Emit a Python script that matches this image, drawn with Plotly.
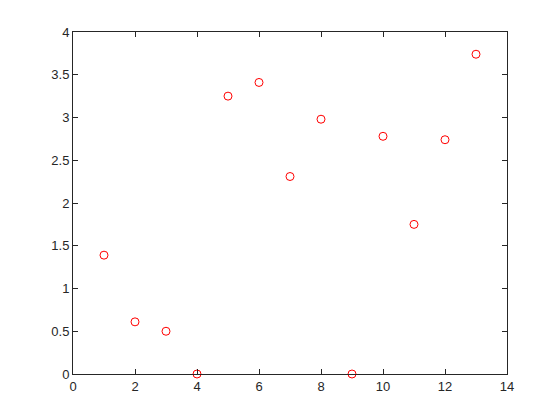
import plotly.graph_objects as go

x_vals = [1, 2, 3, 4, 5, 6, 7, 8, 9, 10, 11, 12, 13]
y_vals = [1.39, 0.61, 0.50, 0.0, 3.25, 3.41, 2.31, 2.98, 0.0, 2.78, 1.75, 2.74, 3.74]
x_ticks = [0, 2, 4, 6, 8, 10, 12, 14]
y_ticks = [0, 0.5, 1, 1.5, 2, 2.5, 3, 3.5, 4]
y_tick_text = ["0", "0.5", "1", "1.5", "2", "2.5", "3", "3.5", "4"]

fig = go.Figure()
fig.add_trace(go.Scatter(
    x=x_vals, y=y_vals, mode="markers", cliponaxis=False,
    marker=dict(symbol="circle-open", size=8, color="#ff0000", line=dict(width=1, color="#ff0000")),
    showlegend=False,
))

axis_common = dict(
    showgrid=False, zeroline=False, showline=True, mirror="ticks",
    linecolor="#262626", linewidth=1, ticks="inside", ticklen=5,
    tickcolor="#262626", tickwidth=1,
    tickfont=dict(family="Liberation Sans, Arial, sans-serif", size=13, color="#262626"),
)

# page body has an 8px default margin, so the figure is sized/margined to compensate
fig.update_layout(
    width=552, height=412,
    margin=dict(l=65, r=53, t=24, b=46, pad=0),
    paper_bgcolor="white", plot_bgcolor="white",
    xaxis=dict(range=[0, 14], tickvals=x_ticks, **axis_common),
    yaxis=dict(range=[0, 4], tickvals=y_ticks, ticktext=y_tick_text, **axis_common),
)

fig.write_html("out.html")
